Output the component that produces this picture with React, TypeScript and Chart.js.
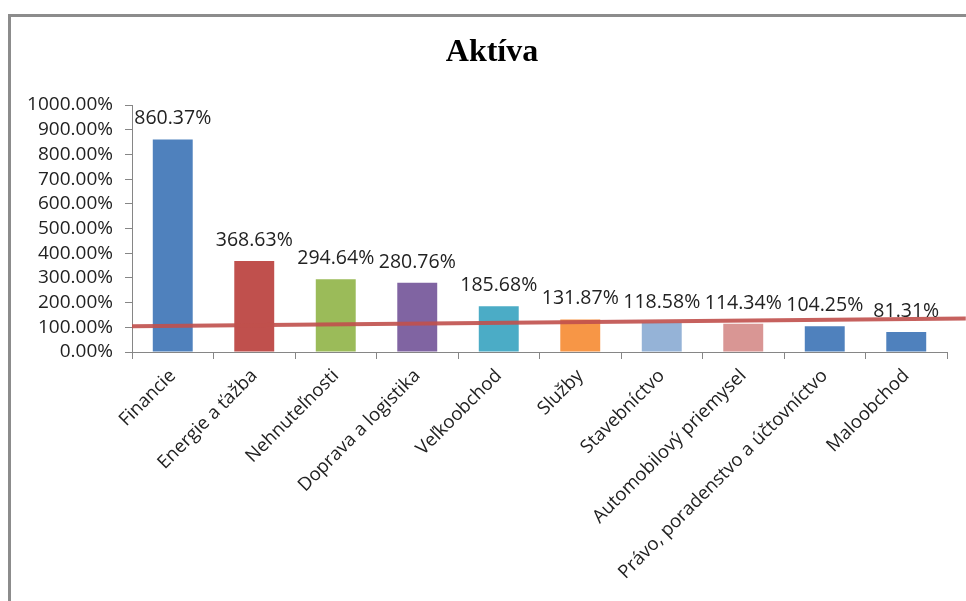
import React, { useEffect, useRef } from "react";
import { Chart, registerables } from "chart.js";

Chart.register(...registerables);

const titleText = "Aktíva";
const categories = [
  "Financie",
  "Energie a ťažba",
  "Nehnuteľnosti",
  "Doprava a logistika",
  "Veľkoobchod",
  "Služby",
  "Stavebníctvo",
  "Automobilový priemysel",
  "Právo, poradenstvo a účtovníctvo",
  "Maloobchod",
];
const values = [860.37, 368.63, 294.64, 280.76, 185.68, 131.87, 118.58, 114.34, 104.25, 81.31];
const barColors = [
  "#4F81BD",
  "#C0504D",
  "#9BBB59",
  "#8064A2",
  "#4BACC6",
  "#F79646",
  "#95B3D7",
  "#D99694",
  "#4F81BD",
  "#4F81BD",
];
const trendX = [0, 10.23];
const trendY = [104, 136];
const yMin = 0;
const yMax = 1000;
const yStep = 100;

const FONT = "'Open Sans', 'Noto Sans', sans-serif";

const dataLabelPlugin = {
  id: "dataLabels",
  afterDatasetsDraw(chart: any) {
    const ctx = chart.ctx;
    const meta = chart.getDatasetMeta(0);
    ctx.save();
    ctx.font = `19.5px ${FONT}`;
    ctx.fillStyle = "#222";
    ctx.textAlign = "center";
    ctx.textBaseline = "alphabetic";
    meta.data.forEach((el: any, i: number) => {
      ctx.fillText(values[i].toFixed(2) + "%", el.x, el.y - 15);
    });
    ctx.restore();
  },
};

const titlePlugin = {
  id: "customTitle",
  afterDraw(chart: any) {
    const ctx = chart.ctx;
    ctx.save();
    ctx.font = "bold 32px 'Liberation Serif', 'Times New Roman', serif";
    ctx.fillStyle = "#000";
    ctx.textAlign = "center";
    ctx.textBaseline = "middle";
    ctx.fillText(titleText, 492, 53);
    ctx.restore();
  },
};

export default function App() {
  const ref = useRef<HTMLCanvasElement>(null);
  useEffect(() => {
    if (!ref.current) return;
    const chart = new Chart(ref.current, {
      type: "bar",
      data: {
        labels: categories,
        datasets: [
          {
            type: "bar",
            data: values,
            backgroundColor: barColors,
            borderWidth: 0,
            barPercentage: 1,
            categoryPercentage: 0.49,
            grouped: false,
            order: 2,
          } as any,
          {
            type: "line",
            xAxisID: "x2",
            data: trendX.map((x, i) => ({ x, y: trendY[i] })),
            borderColor: "rgba(192,80,77,0.9)",
            borderWidth: 4,
            pointRadius: 0,
            clip: false,
            order: 1,
          } as any,
        ],
      },
      options: {
        responsive: false,
        animation: false,
        layout: { padding: { left: 20, right: 19, top: 105, bottom: 0 } },
        plugins: {
          legend: { display: false },
          tooltip: { enabled: false },
          title: { display: false },
        },
        scales: {
          x: {
            type: "category",
            grid: {
              display: true,
              drawOnChartArea: false,
              drawTicks: true,
              tickLength: 7,
              color: "#868686",
              offset: true,
            },
            border: { display: true, color: "#868686", width: 1 },
            ticks: {
              autoSkip: false,
              maxRotation: 45,
              minRotation: 45,
              padding: 6,
              color: "#222",
              font: { family: FONT, size: 18.5 },
            },
            afterFit(scale: any) {
              scale.height = 249;
            },
          },
          x2: {
            type: "linear",
            display: false,
            offset: false,
            min: 0,
            max: 10,
          },
          y: {
            min: yMin,
            max: yMax,
            grid: {
              display: true,
              drawOnChartArea: false,
              drawTicks: true,
              tickLength: 7,
              color: "#868686",
            },
            border: { display: true, color: "#868686", width: 1 },
            ticks: {
              stepSize: yStep,
              autoSkip: false,
              padding: 12,
              color: "#222",
              font: { family: FONT, size: 19 },
              callback: (v: any) => Number(v).toFixed(2) + "%",
            },
            afterFit(scale: any) {
              scale.width = 112;
            },
          },
        },
      } as any,
      plugins: [dataLabelPlugin, titlePlugin],
    });
    return () => chart.destroy();
  }, []);

  return (
    <>
      <div
        style={{
          position: "fixed",
          left: 8,
          top: 14,
          width: 2000,
          height: 2000,
          borderTop: "3px solid #8c8c8c",
          borderLeft: "3px solid #8c8c8c",
          pointerEvents: "none",
        }}
      />
      <div style={{ position: "fixed", left: 0, top: 0, width: 966, height: 601 }}>
        <canvas ref={ref} width={966} height={601} style={{ display: "block" }} />
      </div>
    </>
  );
}
